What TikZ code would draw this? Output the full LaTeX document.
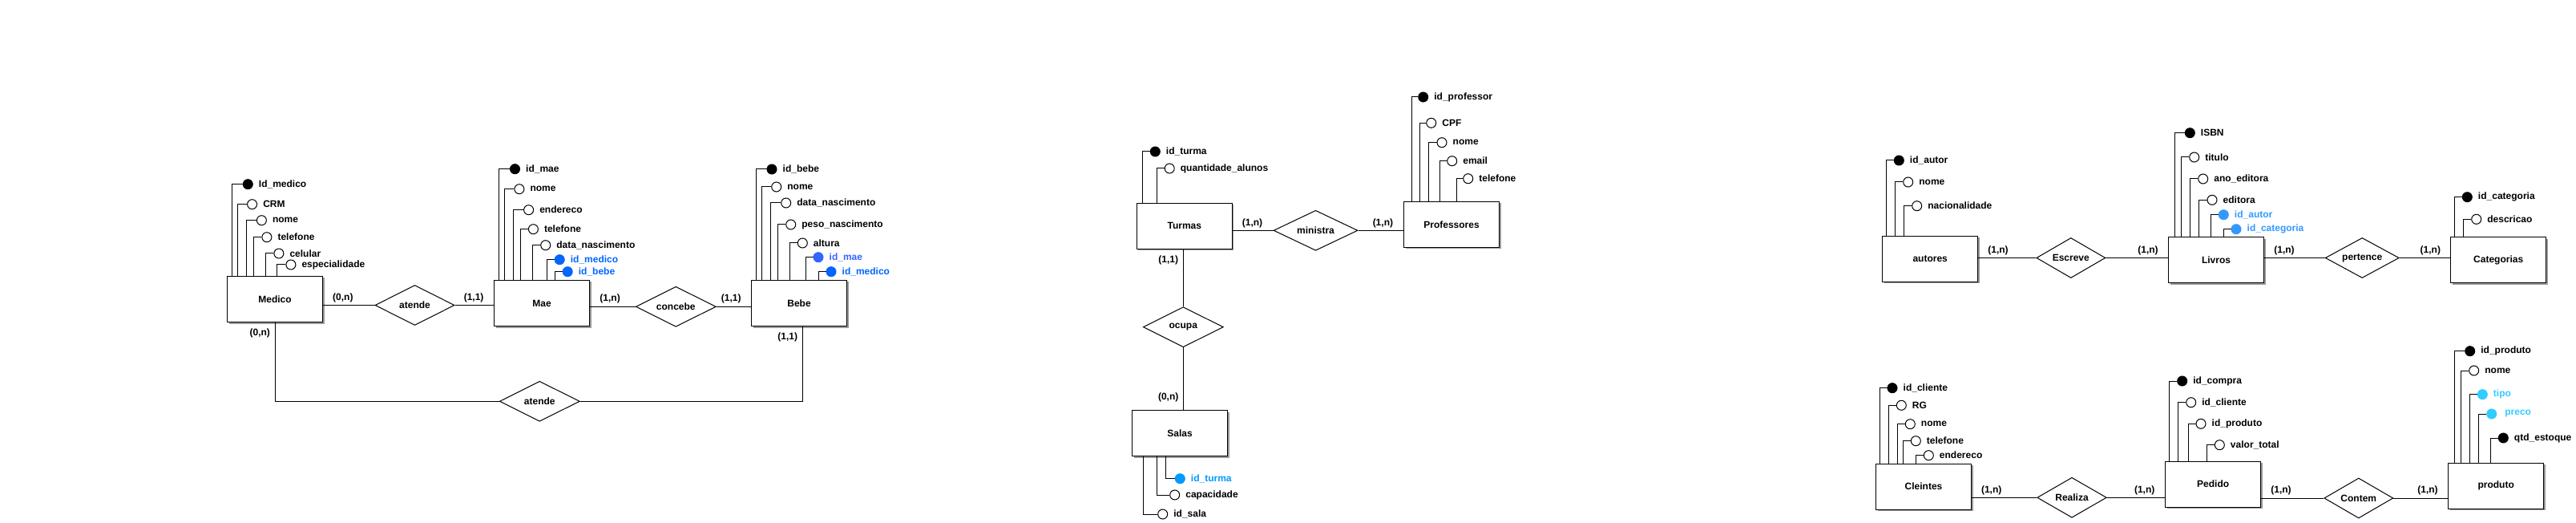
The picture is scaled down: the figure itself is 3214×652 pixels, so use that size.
\documentclass[tikz,border=0pt]{standalone}
\usepackage{fontspec}
\setmainfont{Liberation Sans}
\usetikzlibrary{shapes.geometric,shadows}

\definecolor{fkblue}{RGB}{0,102,255}
\definecolor{fkmid}{RGB}{51,102,255}
\definecolor{fklight}{RGB}{51,153,255}
\definecolor{fksky}{RGB}{0,153,255}
\definecolor{fkcyan}{RGB}{51,204,255}

\tikzset{
  entity/.style={rectangle, draw, fill=white, minimum width=59.5pt, minimum height=28.5pt,
    drop shadow={shadow xshift=1pt, shadow yshift=-1pt, fill=gray!80, opacity=1}},
  relation/.style={diamond, draw, fill=white, inner sep=0pt, aspect=2, minimum height=25pt},
  attr/.style={circle, draw, fill=white, minimum size=6pt, inner sep=0pt},
  pk/.style={attr, fill=black},
  fk/.style={circle, draw=#1, fill=#1, minimum size=6pt, inner sep=0pt},
  card/.style={inner sep=0pt}
}

\begin{document}
\begin{tikzpicture}[x=0.5pt, y=-0.5pt, line width=0.5pt,
    every node/.style={font=\fontsize{6}{7}\selectfont\bfseries}]

  \useasboundingbox (0,0) rectangle (3214,652);

  % entidades
  \node[entity] (medico)      at (343,373)      {Medico};
  \node[entity] (mae)         at (676,378)      {Mae};
  \node[entity] (bebe)        at (997,378)      {Bebe};
  \node[entity] (turmas)      at (1477.8,281.7) {Turmas};
  \node[entity] (professores) at (1811,279.8)   {Professores};
  \node[entity] (salas)       at (1472,540.2)   {Salas};
  \node[entity] (autores)     at (2408.2,323)   {autores};
  \node[entity] (livros)      at (2765,324.5)   {Livros};
  \node[entity] (categorias)  at (3117.2,324.2) {Categorias};
  \node[entity] (cleintes)    at (2400,606.7)   {Cleintes};
  \node[entity] (pedido)      at (2761.2,603.7) {Pedido};
  \node[entity] (produto)     at (3114.2,605.8) {produto};

  % relacionamentos
  \node[relation, minimum width=49.5pt] (atende)   at (517.5,380.5)  {atende};
  \node[relation, minimum width=50pt]   (concebe)  at (843.3,382.3)  {concebe};
  \node[relation, minimum width=50pt]   (atende2)  at (673.3,500.3)  {atende};
  \node[relation, minimum width=52.5pt] (ministra) at (1641.5,287.3) {ministra};
  \node[relation, minimum width=50pt]   (ocupa)    at (1476.3,407.7) {ocupa};
  \node[relation, minimum width=43pt]   (escreve)  at (2583.8,321.5) {Escreve};
  \node[relation, minimum width=46pt]   (pertence) at (2947.2,321.5) {pertence};
  \node[relation, minimum width=43.3pt] (realiza)  at (2585,620.3)   {Realiza};
  \node[relation, minimum width=43pt]   (contem)   at (2942.8,621)   {Contem};

  % ligacoes
  \draw (atende.west) -- (atende.west -| medico.east);
  \draw (atende.east) -- (atende.east -| mae.west);
  \draw (concebe.west) -- (concebe.west -| mae.east);
  \draw (concebe.east) -- (concebe.east -| bebe.west);
  \draw (atende2.west) -| (medico.south);
  \draw (atende2.east) -| (1001.3,0 |- bebe.south);
  \draw (ministra.west) -- (ministra.west -| turmas.east);
  \draw (ministra.east) -- (ministra.east -| professores.west);
  \draw (ocupa.north) -- (ocupa.north |- turmas.south);
  \draw (ocupa.south) -- (ocupa.south |- salas.north);
  \draw (escreve.west) -- (escreve.west -| autores.east);
  \draw (escreve.east) -- (escreve.east -| livros.west);
  \draw (pertence.west) -- (pertence.west -| livros.east);
  \draw (pertence.east) -- (pertence.east -| categorias.west);
  \draw (realiza.west) -- (realiza.west -| cleintes.east);
  \draw (realiza.east) -- (realiza.east -| pedido.west);
  \draw (contem.west) -- (contem.west -| pedido.east);
  \draw (contem.east) -- (contem.east -| produto.west);

  % cardinalidades
  \node[card] (c1)  at (427.9,371)    {(0,n)};
  \node[card] (c2)  at (591.1,371)    {(1,1)};
  \node[card] (c3)  at (761.1,372.7)  {(1,n)};
  \node[card] (c4)  at (912.3,372.7)  {(1,1)};
  \node[card] (c5)  at (324.3,415)    {(0,n)};
  \node[card] (c6)  at (982.7,420)    {(1,1)};
  \node[card] (c7)  at (1562.5,278.3) {(1,n)};
  \node[card] (c8)  at (1725.4,278.3) {(1,n)};
  \node[card] (c9)  at (1457.8,324)   {(1,1)};
  \node[card] (c10) at (1457.7,495.3) {(0,n)};
  \node[card] (c11) at (2493,312)     {(1,n)};
  \node[card] (c12) at (2680,312)     {(1,n)};
  \node[card] (c13) at (2850,312.3)   {(1,n)};
  \node[card] (c14) at (3032.3,312)   {(1,n)};
  \node[card] (c15) at (2484.7,611.3) {(1,n)};
  \node[card] (c16) at (2675.7,611.3) {(1,n)};
  \node[card] (c17) at (2846,611.7)   {(1,n)};
  \node[card] (c18) at (3029,611.7)   {(1,n)};

  % atributos Medico
  \node[pk, label=right:Id\_medico]     (medico1) at (309.3,229.7) {};
  \node[attr, label=right:CRM]          (medico2) at (314.6,254.7) {};
  \node[attr, label=right:nome]         (medico3) at (326.4,274.7) {};
  \node[attr, label=right:telefone]     (medico4) at (332.9,295.7) {};
  \node[attr, label=right:celular]      (medico5) at (347.9,316)   {};
  \node[attr, label=right:especialidade] (medico6) at (362.9,330)  {};
  \draw (medico1) -| (289.6,0 |- medico.north);
  \draw (medico2) -| (296.8,0 |- medico.north);
  \draw (medico3) -| (307.5,0 |- medico.north);
  \draw (medico4) -| (316.4,0 |- medico.north);
  \draw (medico5) -| (331.4,0 |- medico.north);
  \draw (medico6) -| (345.7,0 |- medico.north);

  % atributos Mae
  \node[pk, label=right:id\_mae]                 (mae1) at (642.5,210.7) {};
  \node[attr, label=right:nome]                  (mae2) at (647.9,235.7) {};
  \node[attr, label=right:endereco]              (mae3) at (659.6,261.7) {};
  \node[attr, label=right:telefone]              (mae4) at (665.4,285.7) {};
  \node[attr, label=right:data\_nascimento]      (mae5) at (680.7,305.7) {};
  \node[fk=fkblue, label={[fkblue]right:id\_medico}] (mae6) at (698.2,323.7) {};
  \node[fk=fkblue, label={[fkblue]right:id\_bebe}]   (mae7) at (708.2,338.7) {};
  \draw (mae1) -| (622.5,0 |- mae.north);
  \draw (mae2) -| (629.6,0 |- mae.north);
  \draw (mae3) -| (640.7,0 |- mae.north);
  \draw (mae4) -| (649.3,0 |- mae.north);
  \draw (mae5) -| (664.6,0 |- mae.north);
  \draw (mae6) -| (682.5,0 |- mae.north);
  \draw (mae7) -| (692.5,0 |- mae.north);

  % atributos Bebe
  \node[pk, label=right:id\_bebe]                (bebe1) at (963,211)     {};
  \node[attr, label=right:nome]                  (bebe2) at (968.7,233)   {};
  \node[attr, label=right:data\_nascimento]      (bebe3) at (980.7,253)   {};
  \node[attr, label=right:peso\_nascimento]      (bebe4) at (986.7,280)   {};
  \node[attr, label=right:altura]                (bebe5) at (1001.3,303)  {};
  \node[fk=fkmid, label={[fkmid]right:id\_mae}]      (bebe6) at (1021,320.7) {};
  \node[fk=fkblue, label={[fkblue]right:id\_medico}] (bebe7) at (1037,338.7) {};
  \draw (bebe1) -| (943.3,0 |- bebe.north);
  \draw (bebe2) -| (950.7,0 |- bebe.north);
  \draw (bebe3) -| (961.7,0 |- bebe.north);
  \draw (bebe4) -| (970.7,0 |- bebe.north);
  \draw (bebe5) -| (985.3,0 |- bebe.north);
  \draw (bebe6) -| (1005.3,0 |- bebe.north);
  \draw (bebe7) -| (1021.3,0 |- bebe.north);

  % atributos Turmas
  \node[pk, label=right:id\_turma]             (turmas1) at (1441.3,189) {};
  \node[attr, label=right:quantidade\_alunos]  (turmas2) at (1459.2,210) {};
  \draw (turmas1) -| (1425.5,0 |- turmas.north);
  \draw (turmas2) -| (1443.4,0 |- turmas.north);

  % atributos Professores
  \node[pk, label=right:id\_professor] (prof1) at (1775.7,121)   {};
  \node[attr, label=right:CPF]         (prof2) at (1785.7,153.3) {};
  \node[attr, label=right:nome]        (prof3) at (1799,177.7)   {};
  \node[attr, label=right:email]       (prof4) at (1811.7,200.7) {};
  \node[attr, label=right:telefone]    (prof5) at (1831.7,222.7) {};
  \draw (prof1) -| (1761,0 |- professores.north);
  \draw (prof2) -| (1771,0 |- professores.north);
  \draw (prof3) -| (1782.7,0 |- professores.north);
  \draw (prof4) -| (1796.7,0 |- professores.north);
  \draw (prof5) -| (1817.3,0 |- professores.north);

  % atributos Salas
  \node[fk=fksky, label={[fksky]right:id\_turma}] (salas1) at (1472.3,596.7) {};
  \node[attr, label=right:capacidade]             (salas2) at (1465.7,617)   {};
  \node[attr, label=right:id\_sala]               (salas3) at (1450.7,641)   {};
  \draw (salas1) -| (1454.3,0 |- salas.south);
  \draw (salas2) -| (1443.3,0 |- salas.south);
  \draw (salas3) -| (1426.7,0 |- salas.south);

  % atributos autores
  \node[pk, label=right:id\_autor]       (autores1) at (2369.3,200)   {};
  \node[attr, label=right:nome]          (autores2) at (2380.7,227)   {};
  \node[attr, label=right:nacionalidade] (autores3) at (2391.7,256.7) {};
  \draw (autores1) -| (2353.7,0 |- autores.north);
  \draw (autores2) -| (2364.3,0 |- autores.north);
  \draw (autores3) -| (2375.3,0 |- autores.north);

  % atributos Livros
  \node[pk, label=right:ISBN]            (livros1) at (2732.3,165.7) {};
  \node[attr, label=right:titulo]        (livros2) at (2737.7,196)   {};
  \node[attr, label=right:ano\_editora]  (livros3) at (2748.7,223)   {};
  \node[attr, label=right:editora]       (livros4) at (2760,249.3)   {};
  \node[fk=fklight, label={[fklight]right:id\_autor}]     (livros5) at (2774.3,267.7) {};
  \node[fk=fklight, label={[fklight]right:id\_categoria}] (livros6) at (2790,285.7)   {};
  \draw (livros1) -| (2713.3,0 |- livros.north);
  \draw (livros2) -| (2721.3,0 |- livros.north);
  \draw (livros3) -| (2732.3,0 |- livros.north);
  \draw (livros4) -| (2743.3,0 |- livros.north);
  \draw (livros5) -| (2758.7,0 |- livros.north);
  \draw (livros6) -| (2774,0 |- livros.north);

  % atributos Categorias
  \node[pk, label=right:id\_categoria] (categorias1) at (3078.3,245.7) {};
  \node[attr, label=right:descricao]   (categorias2) at (3089.7,273.3) {};
  \draw (categorias1) -| (3062.7,0 |- categorias.north);
  \draw (categorias2) -| (3073.3,0 |- categorias.north);

  % atributos Cleintes
  \node[pk, label=right:id\_cliente] (cleintes1) at (2361,483.7)   {};
  \node[attr, label=right:RG]        (cleintes2) at (2372.3,505.3) {};
  \node[attr, label=right:nome]      (cleintes3) at (2383.3,528.7) {};
  \node[attr, label=right:telefone]  (cleintes4) at (2390.3,549.7) {};
  \node[attr, label=right:endereco]  (cleintes5) at (2406.3,567.7) {};
  \draw (cleintes1) -| (2345.7,0 |- cleintes.north);
  \draw (cleintes2) -| (2356.3,0 |- cleintes.north);
  \draw (cleintes3) -| (2367.7,0 |- cleintes.north);
  \draw (cleintes4) -| (2374.3,0 |- cleintes.north);
  \draw (cleintes5) -| (2390.3,0 |- cleintes.north);

  % atributos Pedido
  \node[pk, label=right:id\_compra]     (pedido1) at (2722.7,475)   {};
  \node[attr, label=right:id\_cliente]  (pedido2) at (2733.7,501.7) {};
  \node[attr, label=right:id\_produto]  (pedido3) at (2746,528.3)   {};
  \node[attr, label=right:valor\_total] (pedido4) at (2769.3,554.7) {};
  \draw (pedido1) -| (2706.3,0 |- pedido.north);
  \draw (pedido2) -| (2717.3,0 |- pedido.north);
  \draw (pedido3) -| (2730.7,0 |- pedido.north);
  \draw (pedido4) -| (2753.3,0 |- pedido.north);

  % atributos produto
  \node[pk, label=right:id\_produto] (produto1) at (3081.7,437.7) {};
  \node[attr, label=right:nome]      (produto2) at (3086.7,462)   {};
  \node[fk=fkcyan, label={[fkcyan]right:tipo}]                    (produto3) at (3097.3,491.7) {};
  \node[fk=fkcyan, label={[fkcyan, label distance=1.5pt]right:preco}] (produto4) at (3108.7,516) {};
  \node[pk, label=right:qtd\_estoque] (produto5) at (3123.3,546)  {};
  \draw (produto1) -| (3062.7,0 |- produto.north);
  \draw (produto2) -| (3070.7,0 |- produto.north);
  \draw (produto3) -| (3081.7,0 |- produto.north);
  \draw (produto4) -| (3092.7,0 |- produto.north);
  \draw (produto5) -| (3107.7,0 |- produto.north);

\end{tikzpicture}
\end{document}
